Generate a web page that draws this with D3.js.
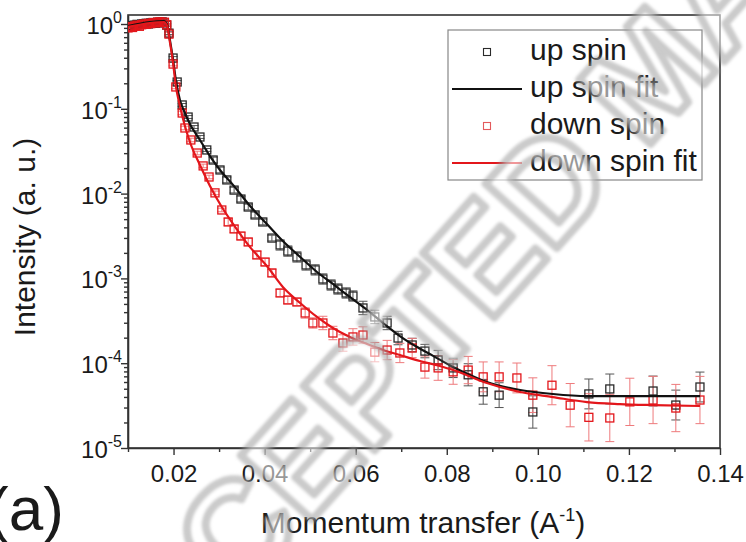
<!DOCTYPE html>
<html>
<head>
<meta charset="utf-8">
<script src="https://cdn.jsdelivr.net/npm/d3@7"></script>
<style>
  body { margin: 0; background: #fff; }
  svg { display: block; }
  text { font-family: "Liberation Sans", Arial, sans-serif; fill: #1a1a1a; }
</style>
</head>
<body>
<svg id="chart" width="746" height="542"></svg>
<script>
// ---- measured reflectivity, up-spin channel ----
const upQ = [0.0100,0.0105,0.0110,0.0115,0.0120,0.0125,0.0130,0.0135,0.0140,0.0145,0.0150,0.0155,0.0160,0.0165,0.0170,0.0175,0.0180,0.0185,
  0.0190,0.0199,0.0208,0.0219,0.0232,0.0245,0.0258,0.0273,
  0.0287,0.0302,0.0317,0.0333,0.0348,0.0364,0.0379,0.0396,0.0416,
  0.0434,0.0451,0.0471,0.0491,0.0511,0.0528,0.0546,0.0561,0.0579,0.0594,
  0.0616,0.0642,0.0669,0.0693,0.0724,0.0752,
  0.0781,0.0814,0.0847,0.0880,0.0915,
  0.0989,0.1112,0.1158,0.1253,0.1303,0.1356];
const upI = [0.93,0.95,0.96,0.97,0.99,0.98,1.00,1.01,1.02,1.00,1.03,1.04,1.02,1.05,1.04,1.06,1.03,0.97,
  0.78,0.397,0.207,0.111,0.080,0.061,0.0465,0.0327,
  0.0249,0.0190,0.0145,0.0110,0.00863,0.00695,0.00560,0.00463,0.00299,
  0.00248,0.00210,0.00179,0.00144,0.00126,0.000984,0.000836,0.000750,0.000673,0.000620,
  0.000448,0.000351,0.000298,0.000198,0.000164,0.000139,
  0.000109,8.8e-5,7.3e-5,4.6e-5,4.2e-5,
  2.66e-5,4.34e-5,4.97e-5,4.7e-5,3.21e-5,5.24e-5];
// multiplicative uncertainty (bar spans I/f .. I*f)
const upErr = [1.03,1.03,1.03,1.03,1.03,1.03,1.03,1.03,1.03,1.03,1.03,1.03,1.03,1.03,1.03,1.03,1.03,1.03,
  1.04,1.04,1.04,1.04,1.04,1.04,1.04,1.04,
  1.08,1.08,1.08,1.08,1.08,1.08,1.08,1.08,1.08,
  1.15,1.15,1.15,1.15,1.15,1.15,1.15,1.15,1.15,1.15,
  1.2,1.2,1.2,1.2,1.2,1.2,
  1.3,1.3,1.35,1.4,1.4,
  1.55,1.5,1.5,1.5,1.5,1.5];

// ---- measured reflectivity, down-spin channel ----
const downQ = [0.0100,0.0105,0.0110,0.0115,0.0120,0.0125,0.0130,0.0135,0.0140,0.0145,0.0150,0.0155,0.0160,0.0165,0.0170,0.0175,0.0180,0.0185,
  0.0190,0.0199,0.0205,0.0219,0.0225,0.0238,0.0252,0.0265,0.0278,0.0291,0.0306,
  0.0320,0.0333,0.0348,0.0364,0.0383,0.0401,0.0416,0.0434,0.0451,0.0471,
  0.0489,0.0506,0.0528,0.0550,0.0572,0.0594,0.0616,0.0642,0.0669,0.0697,0.0724,
  0.0752,0.0781,0.0814,0.0847,0.0880,0.0915,0.0954,0.0989,
  0.1031,0.1071,0.1112,0.1158,0.1202,0.1253,0.1303,0.1356];
const downI = [0.90,0.93,0.91,0.95,0.97,0.94,0.98,1.00,0.99,1.02,1.01,1.04,1.03,1.05,1.06,1.04,1.05,0.98,
  0.76,0.337,0.181,0.0892,0.0594,0.0429,0.0301,0.0212,0.0157,0.0102,0.00641,
  0.00463,0.00383,0.00316,0.00269,0.00189,0.00156,0.00116,0.000673,0.000556,0.000527,
  0.000391,0.000298,0.000298,0.000227,0.000173,0.000204,0.000215,0.000135,0.000143,0.000132,0.000151,
  9.0e-5,8.8e-5,7.9e-5,8.3e-5,6.9e-5,6.9e-5,6.7e-5,4.2e-5,
  5.5e-5,3.2e-5,2.3e-5,2.26e-5,3.5e-5,3.68e-5,2.96e-5,3.68e-5];
const downErr = [1.03,1.03,1.03,1.03,1.03,1.03,1.03,1.03,1.03,1.03,1.03,1.03,1.03,1.03,1.03,1.03,1.03,1.03,
  1.05,1.05,1.05,1.05,1.05,1.05,1.05,1.05,1.05,1.05,1.05,
  1.1,1.1,1.1,1.1,1.1,1.1,1.1,1.1,1.1,1.1,
  1.15,1.15,1.2,1.2,1.25,1.25,1.25,1.3,1.3,1.3,1.3,
  1.35,1.4,1.4,1.45,1.5,1.5,1.5,1.6,
  1.7,1.8,1.9,1.9,1.9,1.9,1.9,1.9];

// ---- model fits ----
const upFitQ = [0.0100,0.0148,0.0179,0.0186,0.0192,0.0199,0.0205,0.0214,0.0225,0.0236,0.0258,0.0280,0.0302,0.0331,0.0368,0.0405,0.0440,0.0478,0.0515,0.0550,0.0587,0.0625,0.0660,0.0697,0.0735,0.0770,0.0814,0.0851,0.0888,0.0961,0.1033,0.1108,0.1180,0.1356];
const upFitI = [0.947,1.056,1.08,0.973,0.648,0.376,0.219,0.127,0.0892,0.0662,0.0429,0.0277,0.0190,0.0126,0.00714,0.00438,0.00276,0.00179,0.00119,0.000859,0.000604,0.000424,0.000298,0.000209,0.000155,0.000122,9.0e-5,7.26e-5,6.0e-5,4.83e-5,4.33e-5,4.1e-5,4.1e-5,4.1e-5];
const downFitQ = [0.0100,0.0148,0.0179,0.0186,0.0192,0.0199,0.0205,0.0214,0.0225,0.0236,0.0258,0.0280,0.0306,0.0331,0.0368,0.0405,0.0440,0.0478,0.0515,0.0550,0.0587,0.0625,0.0660,0.0697,0.0741,0.0785,0.0814,0.0888,0.0961,0.1033,0.1108,0.1180,0.1253,0.1356];
const downFitI = [0.922,1.027,1.056,0.947,0.613,0.347,0.186,0.108,0.0627,0.0406,0.0217,0.0123,0.00695,0.00438,0.00234,0.00140,0.000792,0.000513,0.000351,0.00026,0.000204,0.000168,0.000143,0.000125,0.000106,9.27e-5,8.3e-5,5.84e-5,4.57e-5,3.99e-5,3.48e-5,3.30e-5,3.21e-5,3.13e-5];

// ---- axes ----
const xMajor = [0.02,0.04,0.06,0.08,0.10,0.12,0.14];
const xMinor = [0.01,0.03,0.05,0.07,0.09,0.11,0.13];
const yExponents = [-5,-4,-3,-2,-1,0];

const legendLabels = ["up spin","up spin fit","down spin","down spin fit"];
const xTitle = "Momentum transfer (A";
const yTitle = "Intensity (a. u.)";
const panelTag = "(a)";
const stampText = "ACCEPTED MANUSCRIPT";

const BLACK = "#2a2a2a", RED = "#e3161b";

const svg = d3.select("#chart");
const x = d3.scaleLinear().domain([0.01, 0.14]).range([128, 720]);
const y = d3.scaleLog().domain([1e-5, 1.277]).range([448, 15]);
const [x0, x1] = x.range();
const [yb, yt] = y.range();

const defs = svg.append("defs");
defs.append("clipPath").attr("id", "plot")
  .append("rect").attr("x", x0).attr("y", yt).attr("width", x1 - x0).attr("height", yb - yt);
defs.append("filter").attr("id", "soft").append("feGaussianBlur").attr("stdDeviation", 1.6);

// bottom axis
const gx = svg.append("g").attr("transform", `translate(0,${yb})`)
  .call(d3.axisBottom(x).tickValues(xMajor).tickSize(7).tickSizeOuter(0).tickPadding(10)
    .tickFormat(d3.format(".2f")));
gx.attr("font-size", 24).attr("font-family", null);
gx.selectAll("text").style("fill", "#1a1a1a");
const gxm = svg.append("g").attr("transform", `translate(0,${yb})`)
  .call(d3.axisBottom(x).tickValues(xMinor).tickSize(4).tickSizeOuter(0).tickFormat(""));
gxm.select(".domain").remove();

// left axis (labels drawn as powers of ten below)
const yMinor = [];
yExponents.slice(0, -1).forEach(e => { for (let k = 2; k <= 9; k++) yMinor.push(k * Math.pow(10, e)); });
const gy = svg.append("g").attr("transform", `translate(${x0},0)`)
  .call(d3.axisLeft(y).tickValues(yExponents.map(e => Math.pow(10, e))).tickSize(7).tickSizeOuter(0).tickFormat(""));
const gym = svg.append("g").attr("transform", `translate(${x0},0)`)
  .call(d3.axisLeft(y).tickValues(yMinor).tickSize(4).tickSizeOuter(0).tickFormat(""));
gym.select(".domain").remove();

svg.selectAll(".tick line").attr("stroke", "#333").attr("stroke-width", 1.4);
svg.selectAll(".domain").attr("stroke", "#333").attr("stroke-width", 1.6);

// frame
svg.append("rect").attr("x", x0).attr("y", yt).attr("width", x1 - x0).attr("height", yb - yt)
  .attr("fill", "none").attr("stroke", "#333").attr("stroke-width", 1.6);

// y tick labels 10^n
const yl = svg.append("g").attr("font-size", 24);
yExponents.forEach(e => {
  const t = yl.append("text").attr("x", 122).attr("y", y(Math.pow(10, e)) + 10).attr("text-anchor", "end");
  t.append("tspan").text("10");
  t.append("tspan").attr("font-size", 16).attr("dy", -11).text(String(e));
});

// axis titles
const xt = svg.append("text").attr("x", 423).attr("y", 533).attr("text-anchor", "middle").attr("font-size", 30);
xt.append("tspan").text(xTitle);
xt.append("tspan").attr("font-size", 18).attr("dy", -12).text("-1");
xt.append("tspan").attr("dy", 12).text(")");

svg.append("text").attr("transform", "translate(35,237) rotate(-90)").attr("text-anchor", "middle")
  .attr("font-size", 30).text(yTitle);

svg.append("text").attr("x", -12).attr("y", 530).attr("font-size", 62).text(panelTag);

// ---- data layers ----
const plot = svg.append("g").attr("clip-path", "url(#plot)");
const series = [
  { q: upQ, v: upI, f: upErr, color: BLACK, bar: "#555" },
  { q: downQ, v: downI, f: downErr, color: RED, bar: "#ee7a7c" }
];

series.forEach(s => {
  const pts = s.q.map((q, i) => ({ q, v: s.v[i], f: s.f[i] }));
  const eb = plot.append("g").attr("stroke", s.bar).attr("stroke-width", 1);
  pts.forEach(p => {
    const cx = x(p.q), ylo = y(p.v / p.f), yhi = y(p.v * p.f);
    eb.append("line").attr("x1", cx).attr("x2", cx).attr("y1", ylo).attr("y2", yhi);
    eb.append("line").attr("x1", cx - 4.5).attr("x2", cx + 4.5).attr("y1", ylo).attr("y2", ylo);
    eb.append("line").attr("x1", cx - 4.5).attr("x2", cx + 4.5).attr("y1", yhi).attr("y2", yhi);
  });
  s.pts = pts;
});

series.forEach(s => {
  plot.append("g").selectAll("rect").data(s.pts).join("rect")
    .attr("x", d => x(d.q) - 4).attr("y", d => y(d.v) - 4)
    .attr("width", 8).attr("height", 8)
    .attr("fill", "none").attr("stroke", s.color).attr("stroke-width", 1.3);
});

const line = d3.line().x(d => x(d[0])).y(d => y(d[1])).curve(d3.curveMonotoneX);
plot.append("path").datum(upFitQ.map((q, i) => [q, upFitI[i]]))
  .attr("d", line).attr("fill", "none").attr("stroke", "#111").attr("stroke-width", 2.2);
plot.append("path").datum(downFitQ.map((q, i) => [q, downFitI[i]]))
  .attr("d", line).attr("fill", "none").attr("stroke", RED).attr("stroke-width", 2.2);

// ---- legend ----
const lg = svg.append("g");
lg.append("rect").attr("x", 448).attr("y", 30).attr("width", 254).attr("height", 150)
  .attr("fill", "#fff").attr("stroke", "#888").attr("stroke-width", 1.2);
const rows = [52, 89, 126, 163];
const kinds = [
  { type: "sym", color: BLACK }, { type: "line", color: "#111" },
  { type: "sym", color: "#e35a5c" }, { type: "line", color: RED }
];
kinds.forEach((k, i) => {
  const cy = rows[i];
  if (k.type === "sym") {
    lg.append("rect").attr("x", 483.5).attr("y", cy - 3.5).attr("width", 7).attr("height", 7)
      .attr("fill", "none").attr("stroke", k.color).attr("stroke-width", 1.1);
  } else {
    lg.append("line").attr("x1", 452).attr("x2", 522).attr("y1", cy).attr("y2", cy)
      .attr("stroke", k.color).attr("stroke-width", 2.2);
  }
  lg.append("text").attr("x", 530).attr("y", cy + 8).attr("font-size", 30).text(legendLabels[i]);
});

// ---- manuscript stamp ----
svg.append("text").attr("transform", "translate(103,752) rotate(-48)")
  .attr("font-size", 140).attr("font-weight", "bold")
  .attr("filter", "url(#soft)")
  .style("fill", "rgba(255,255,255,0.55)").attr("stroke", "rgba(150,150,150,0.5)").attr("stroke-width", 8)
  .attr("stroke-linejoin", "round")
  .text(stampText);
</script>
</body>
</html>
